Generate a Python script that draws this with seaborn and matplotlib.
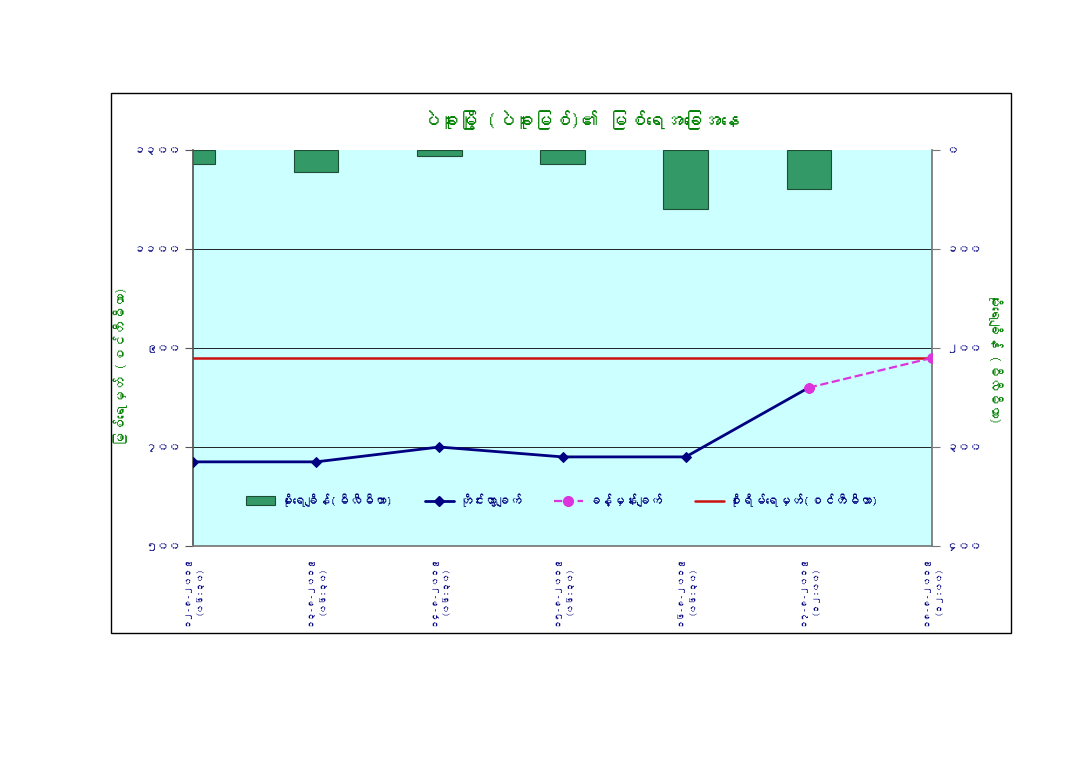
import numpy as np
import pandas as pd
import matplotlib
matplotlib.use("Agg")
import matplotlib.pyplot as plt
import seaborn as sns
from matplotlib import font_manager as fm
from matplotlib.patches import Rectangle, Patch
from matplotlib.lines import Line2D

# ---------------- data ----------------
dates = ["၁၂-၈-၂၀၁၉", "၁၃-၈-၂၀၁၉", "၁၄-၈-၂၀၁၉", "၁၅-၈-၂၀၁၉",
         "၁၆-၈-၂၀၁၉", "၁၇-၈-၂၀၁၉", "၁၈-၈-၂၀၁၉"]
times = ["(၀၆:၃၀)", "(၀၆:၃၀)", "(၀၆:၃၀)", "(၀၆:၃၀)",
         "(၀၆:၃၀)", "(၁၂:၀၀)", "(၁၂:၀၀)"]
rainfall_mm = [14, 22, 6, 14, 60, 39, 0]
observed_cm = [670, 670, 700, 680, 680, 820]
forecast_cm = [820, 880]
forecast_start = 5
danger_cm = 880

left_ticks = [500, 700, 900, 1100, 1300]
left_tick_labels = ["၅၀၀", "၇၀၀", "၉၀၀", "၁၁၀၀", "၁၃၀၀"]
right_ticks = [0, 100, 200, 300, 400]
right_tick_labels = ["၀", "၁၀၀", "၂၀၀", "၃၀၀", "၄၀၀"]

title = "ပဲခူးမြို့ (ပဲခူးမြစ်)၏ မြစ်ရေအခြေအနေ"
left_label = "မြစ်ရေမှတ် (စင်တီမီတာ)"
right_label = "မိုးရေချိန် (မီလီမီတာ)"
legend_labels = ["မိုးရေချိန်(မီလီမီတာ)", "တိုင်းထွာချက်", "ခန့်မှန်းချက်",
                 "စိုးရိမ်ရေမှတ်(စင်တီမီတာ)"]

# ---------------- style / fonts ----------------
sns.set_theme(style="white")
families = ["DejaVu Sans"]
try:
    from matplotlib.ft2font import FT2Font
    found = None
    for f in sorted(fm.findSystemFonts()):
        try:
            cmap = FT2Font(f).get_charmap()
            if 0x1000 in cmap and 0x1040 in cmap and 0x103C in cmap:
                found = f
                break
        except Exception:
            pass
    if found:
        fm.fontManager.addfont(found)
        families = [fm.FontProperties(fname=found).get_name(), "DejaVu Sans"]
except Exception:
    pass
plt.rcParams["font.family"] = families

navy = "#000080"
green = "#008000"
bar_color = "#339966"
cyan = "#CCFFFF"
pink = "#DD33DD"
red = "#CC1111"

xlabels = [f"{d}\n{t}" for d, t in zip(dates, times)]

fig = plt.figure(figsize=(10.8, 7.65), dpi=100)
fig.patch.set_facecolor("white")
fig.patches.append(Rectangle((111 / 1080, 1 - 633 / 765), 900 / 1080, 540 / 765,
                             transform=fig.transFigure, fill=False,
                             edgecolor="black", lw=1.0))

ax = fig.add_axes([193 / 1080, 1 - 546 / 765, 739 / 1080, 396 / 765])
ax2 = ax.twinx()

# bars (rainfall) on secondary axis, inverted
df_rain = pd.DataFrame({"label": xlabels, "rain": rainfall_mm})
sns.barplot(data=df_rain, x="label", y="rain", ax=ax2, color=bar_color,
            saturation=1, width=0.36, edgecolor="#1d4f36", linewidth=0.8)
for p in ax2.patches:
    if abs(p.get_height()) < 1e-9:
        p.set_visible(False)
ax2.set_ylim(400, 0)
ax2.set_yticks(right_ticks)
ax2.set_yticklabels(right_tick_labels)
ax2.set_ylabel(right_label, color=green, fontsize=10, fontweight="bold",
               rotation=-90, va="center")
ax2.yaxis.set_label_coords(1.086, 0.475)
ax2.patch.set_visible(True)
ax2.patch.set_facecolor(cyan)

# lines on primary axis
ax.set_zorder(ax2.get_zorder() + 1)
ax.patch.set_visible(False)

sns.lineplot(x=list(range(len(observed_cm))), y=observed_cm, ax=ax, color=navy,
             lw=2, marker="D", markersize=5, markeredgecolor=navy, zorder=4)
sns.lineplot(x=list(range(forecast_start, forecast_start + len(forecast_cm))),
             y=forecast_cm, ax=ax, color=pink, lw=1.6, linestyle="--",
             marker="o", markersize=7, markeredgecolor=pink, zorder=5)
sns.lineplot(x=list(range(len(dates))), y=[danger_cm] * len(dates), ax=ax,
             color=red, lw=1.8, zorder=3)

ax.set_ylim(500, 1300)
ax.set_yticks(left_ticks)
ax.set_yticklabels(left_tick_labels)
ax.set_xlim(0, len(dates) - 1)
ax.set_xticks(range(len(dates)))
ax.set_xticklabels(xlabels, rotation=90, va="top", ha="center",
                   fontsize=6.3, fontweight="bold", color=navy,
                   linespacing=1.7)
ax.set_xlabel("")
ax2.set_xlabel("")
ax.set_ylabel(left_label, color=green, fontsize=10, fontweight="bold")
ax.yaxis.set_label_coords(-0.088, 0.455)

for y in [700, 900, 1100]:
    ax.axhline(y, color="black", lw=0.6, zorder=1)

for a in (ax, ax2):
    for s in a.spines.values():
        s.set_visible(False)
ax.spines["left"].set_visible(True)
ax.spines["left"].set_color("#555555")
ax.spines["right"].set_visible(True)
ax.spines["right"].set_color("#777777")
ax.spines["bottom"].set_visible(True)
ax.spines["bottom"].set_color("#777777")

ax.tick_params(axis="y", direction="out", length=6, width=0.8, color="#555555",
               labelsize=8.5, labelcolor=navy, pad=3)
ax.tick_params(axis="x", direction="out", length=5, width=0.8, color="#777777",
               pad=2)
ax2.tick_params(axis="y", direction="out", length=6, width=0.8, color="#777777",
                labelsize=8.5, labelcolor=navy, pad=4)
for lab in ax.get_yticklabels() + ax2.get_yticklabels():
    lab.set_fontweight("bold")

handles = [
    Patch(facecolor=bar_color, edgecolor="#1d4f36", linewidth=0.8),
    Line2D([], [], color=navy, lw=2, marker="D", markersize=5),
    Line2D([], [], color=pink, lw=1.6, linestyle="--", marker="o", markersize=7),
    Line2D([], [], color=red, lw=1.8),
]
leg = ax.legend(handles, legend_labels, loc="center", bbox_to_anchor=(0.5, 0.116),
                ncol=4, frameon=False, fontsize=9, handlelength=2.3,
                columnspacing=2.6, handletextpad=0.4)
for t in leg.get_texts():
    t.set_color(navy)
    t.set_fontweight("bold")

fig.text(580 / 1080, 1 - 120 / 765, title, ha="center", va="center",
         color=green, fontsize=13.5, fontweight="bold")

fig.savefig("out.png", dpi=100, facecolor="white")
